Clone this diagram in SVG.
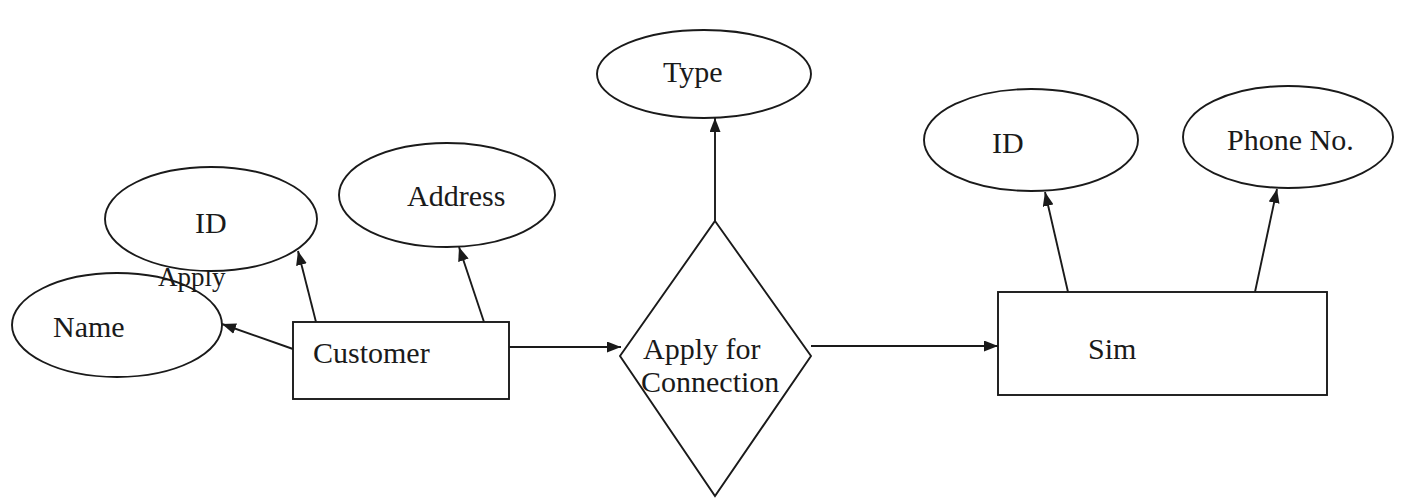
<svg xmlns="http://www.w3.org/2000/svg" width="1402" height="499" viewBox="0 0 1402 499">
  <style>
    .shape { fill: #ffffff; stroke: #1a1a1a; stroke-width: 1.9; }
    .link { fill: none; stroke: #1a1a1a; stroke-width: 1.9; }
    .label { font-family: "Liberation Serif", "Times New Roman", serif; font-size: 30px; fill: #1a1a1a; }
  </style>
  <defs>
    <marker id="arrow" viewBox="0 0 14 11" refX="14" refY="5.5" markerWidth="14" markerHeight="11" markerUnits="userSpaceOnUse" orient="auto">
      <path d="M0,0 L14,5.5 L0,11 z" fill="#1a1a1a"/>
    </marker>
  </defs>
  <rect width="1402" height="499" fill="#ffffff"/>

  <!-- stray label partly hidden behind the ID attribute -->
  <text class="label" x="158" y="286" style="font-size:27px">Apply</text>

  <g id="attr-customer-name">
    <ellipse class="shape" cx="117" cy="325" rx="105" ry="52" style="fill:none"/>
    <text class="label" x="53" y="337">Name</text>
  </g>

  <g id="attr-customer-id">
    <ellipse class="shape" cx="211" cy="219" rx="106" ry="52"/>
    <text class="label" x="195" y="233">ID</text>
  </g>

  <g id="attr-customer-address">
    <ellipse class="shape" cx="447" cy="195" rx="108" ry="52"/>
    <text class="label" x="407" y="206">Address</text>
  </g>

  <g id="entity-customer">
    <rect class="shape" x="293" y="322" width="216" height="77"/>
    <text class="label" x="313" y="363">Customer</text>
  </g>

  <g id="attr-type">
    <ellipse class="shape" cx="704" cy="74" rx="107" ry="44"/>
    <text class="label" x="663" y="82">Type</text>
  </g>

  <g id="rel-apply">
    <polygon class="shape" points="715,221 811,356 715,496 620,356"/>
    <text class="label" x="643" y="359">Apply for</text>
    <text class="label" x="641" y="392">Connection</text>
  </g>

  <g id="entity-sim">
    <rect class="shape" x="998" y="292" width="329" height="103"/>
    <text class="label" x="1088" y="359">Sim</text>
  </g>

  <g id="attr-sim-id">
    <ellipse class="shape" cx="1031" cy="140" rx="107" ry="51"/>
    <text class="label" x="992" y="153">ID</text>
  </g>

  <g id="attr-sim-phone">
    <ellipse class="shape" cx="1288" cy="137" rx="105" ry="51"/>
    <text class="label" x="1227" y="150">Phone No.</text>
  </g>

  <g id="connectors">
    <line class="link" x1="293" y1="349" x2="222" y2="324" marker-end="url(#arrow)"/>
    <line class="link" x1="316" y1="322" x2="298" y2="251" marker-end="url(#arrow)"/>
    <line class="link" x1="484" y1="322" x2="459" y2="247" marker-end="url(#arrow)"/>
    <line class="link" x1="509" y1="347" x2="621" y2="347" marker-end="url(#arrow)"/>
    <line class="link" x1="715" y1="221" x2="715" y2="118" marker-end="url(#arrow)"/>
    <line class="link" x1="811" y1="346" x2="998" y2="346" marker-end="url(#arrow)"/>
    <line class="link" x1="1068" y1="292" x2="1045" y2="192" marker-end="url(#arrow)"/>
    <line class="link" x1="1255" y1="292" x2="1277" y2="189" marker-end="url(#arrow)"/>
  </g>
</svg>
